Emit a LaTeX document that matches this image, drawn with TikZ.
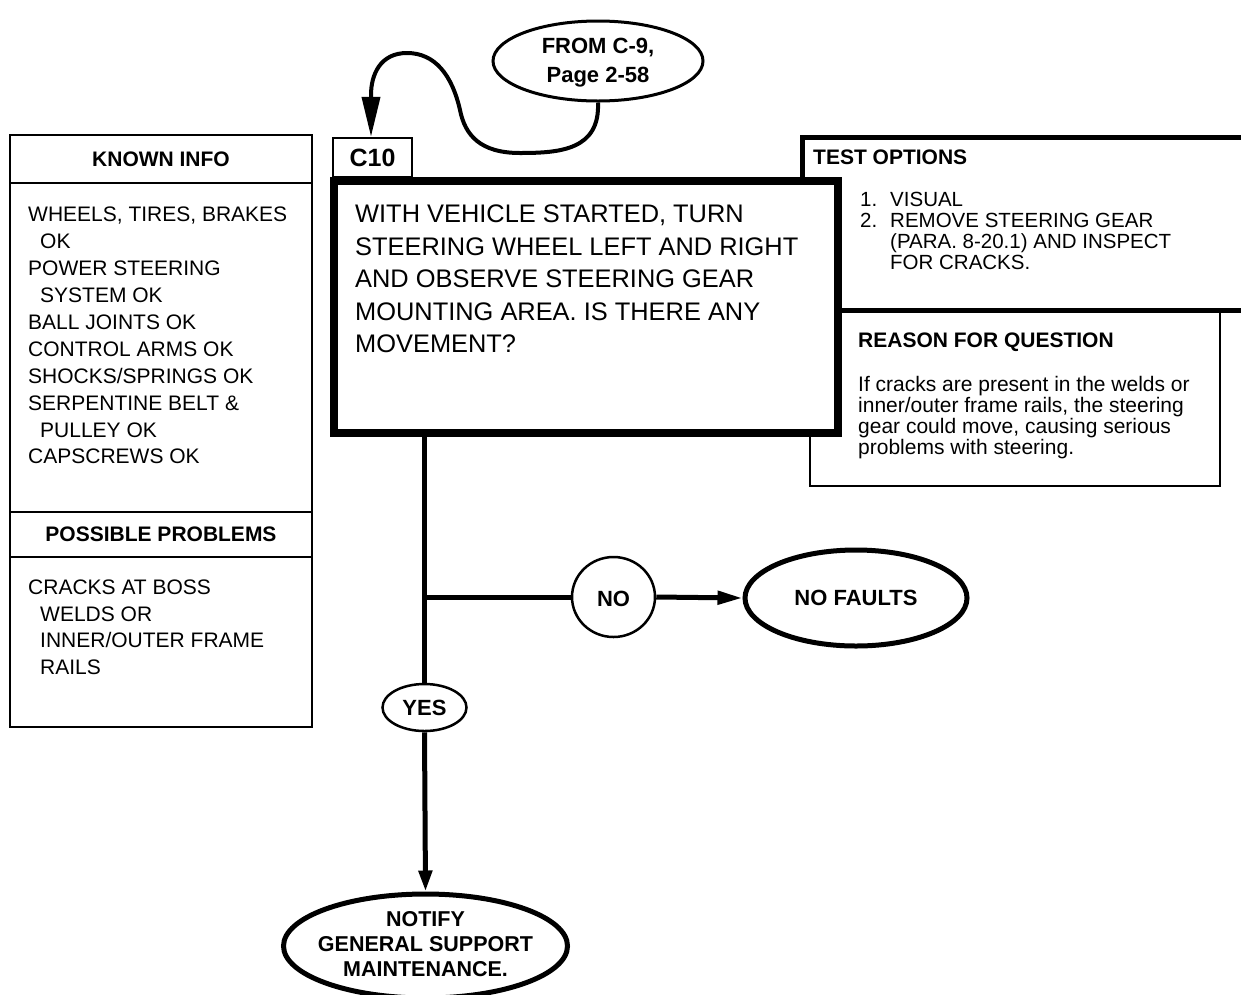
\documentclass[tikz,border=0pt]{standalone}
\usepackage{fontspec}
\setmainfont{Liberation Sans}
\usetikzlibrary{arrows.meta,shapes.geometric}
\begin{document}
\begin{tikzpicture}[x=1pt,y=-1pt,
  thinline/.style={line width=2.5pt},
  hdr/.style={font=\bfseries\fontsize{21}{25}\selectfont,inner sep=0pt},
  body/.style={font=\fontsize{21}{26.9}\selectfont,align=left,inner sep=0pt,anchor=north west},
  oval/.style={ellipse,draw,fill=white,inner sep=0pt},
  trunk/.style={line width=5pt},
  lbl/.style={font=\bfseries\fontsize{22}{25}\selectfont,inner sep=0pt},
  ]
\useasboundingbox (0,0) rectangle (1241,994);
\fill[white] (0,0) rectangle (1241,994);

% ---- KNOWN INFO / POSSIBLE PROBLEMS panel
\node[draw,thinline,rectangle,minimum width=302pt,minimum height=592pt,inner sep=0pt] (known) at (161,431) {};
\draw[thinline] (10,183) -- (312,183);
\draw[thinline] (10,512) -- (312,512);
\draw[thinline] (10,557) -- (312,557);
\node[hdr] (khdr) at (161,159) {KNOWN INFO};
\node[body] (kbody) at (28,207) {WHEELS, TIRES, BRAKES\\\hspace*{12pt}OK\\POWER STEERING\\\hspace*{12pt}SYSTEM OK\\BALL JOINTS OK\\CONTROL ARMS OK\\SHOCKS/SPRINGS OK\\SERPENTINE BELT \&\\\hspace*{12pt}PULLEY OK\\CAPSCREWS OK};
\node[hdr] (phdr) at (161,534.5) {POSSIBLE PROBLEMS};
\node[body,font=\fontsize{21}{26.4}\selectfont] (pbody) at (28,580) {CRACKS AT BOSS\\\hspace*{12pt}WELDS OR\\\hspace*{12pt}INNER/OUTER FRAME\\\hspace*{12pt}RAILS};

% ---- REASON FOR QUESTION
\node[draw,thinline,rectangle,minimum width=410pt,minimum height=174pt,inner sep=0pt] (reason) at (1015,399) {};
\node[hdr,anchor=base west] (rhdr) at (858,347) {REASON FOR QUESTION};
\node[font=\fontsize{21}{21}\selectfont,align=left,inner sep=0pt,anchor=north west] (rbody) at (858,376) {If cracks are present in the welds or\\inner/outer frame rails, the steering\\gear could move, causing serious\\problems with steering.};

% ---- TEST OPTIONS
\draw[line width=5pt] (802.5,181) -- (802.5,137.5) -- (1250,137.5);
\draw[line width=5pt] (838,310.5) -- (1250,310.5);
\node[hdr,anchor=base west] (thdr) at (813,164) {TEST OPTIONS};
\node[font=\fontsize{20.5}{21}\selectfont,align=left,inner sep=0pt,anchor=north west] (titems) at (860,192) {\makebox[30pt][l]{1.}VISUAL\\\makebox[30pt][l]{2.}REMOVE STEERING GEAR\\\hspace*{30pt}(PARA. 8-20.1) AND INSPECT\\\hspace*{30pt}FOR CRACKS.};

% ---- C10 tab and question box
\node[draw,thinline,rectangle,minimum width=79pt,minimum height=39pt,inner sep=0pt,font=\bfseries\fontsize{25}{30}\selectfont] (c10) at (372.5,157.5) {C10};
\node[draw,fill=white,line width=8pt,rectangle,minimum width=504pt,minimum height=252pt,inner sep=0pt] (q) at (586,307) {};
\node[font=\fontsize{25.4}{32.5}\selectfont,align=left,inner sep=0pt,anchor=north west] (qt) at (355,205) {WITH VEHICLE STARTED, TURN\\STEERING WHEEL LEFT AND RIGHT\\AND OBSERVE STEERING GEAR\\MOUNTING AREA. IS THERE ANY\\MOVEMENT?};

% ---- entry connector
\node[oval,line width=3pt,minimum width=210pt,minimum height=80pt] (from) at (598,61) {};
\node[align=center,inner sep=0pt,font=\bfseries\fontsize{22}{29}\selectfont] (fromt) at (598,63) {FROM C-9,\\Page 2-58};
\draw[line width=4pt,-{Triangle[length=40pt,width=18pt]}] (from.south) .. controls (600,150) and (560,153) .. (520,153) .. controls (480,153) and (465,135) .. (460,110) .. controls (452,75) and (435,53) .. (407,53) .. controls (380,53) and (371,75) .. (371,95) -- (c10.north -| 371,0);

% ---- decision branches
\coordinate (br) at (424.5,597);
\node[oval,thinline,minimum width=84pt,minimum height=47pt] (yes) at (424.5,707.5) {};
\node[lbl] (yest) at (yes) {YES};
\node[oval,thinline,minimum width=83pt,minimum height=80pt] (no) at (613.5,597) {};
\node[lbl] (not) at (613.5,599) {NO};
\node[oval,line width=5pt,minimum width=222pt,minimum height=96pt] (nof) at (856,598) {};
\node[lbl] (noft) at (nof) {NO FAULTS};
\node[oval,line width=5pt,minimum width=284pt,minimum height=104pt] (notify) at (425.5,946) {};
\node[lbl,align=center,font=\bfseries\fontsize{21.5}{25}\selectfont] (notifyt) at (425.5,944) {NOTIFY\\GENERAL SUPPORT\\MAINTENANCE.};

\draw[trunk] (q.south -| br) -- (yes.north);
\draw[trunk] (br) -- (no.west);
\draw[trunk,-{Triangle[length=25pt,width=13pt]}] (no.east) -- (nof.west);
\draw[trunk,-{Triangle[length=21pt,width=13pt]}] (yes.south) -- (notify.north);
\end{tikzpicture}
\end{document}
